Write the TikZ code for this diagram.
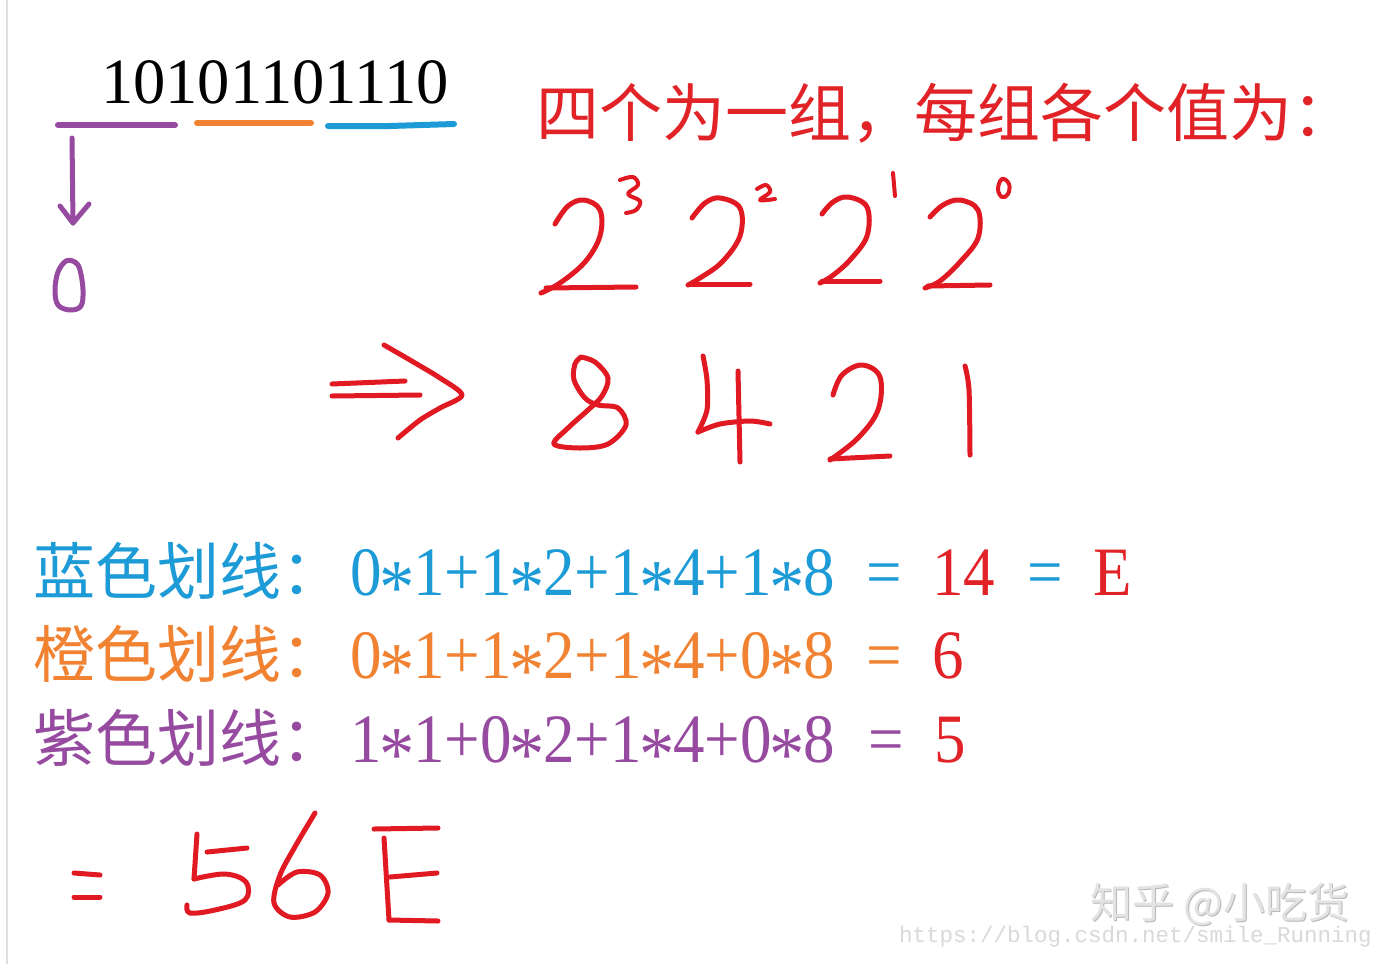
\documentclass[tikz,border=0pt]{standalone}
\usepackage{fontspec}
\setmainfont{Liberation Serif}
\newfontfamily\cjk{Noto Sans CJK SC}
\newfontfamily\monof{Liberation Mono}
\definecolor{blueC}{RGB}{28,155,215}
\definecolor{orangeC}{RGB}{240,130,50}
\definecolor{purpleC}{RGB}{150,75,160}
\definecolor{redC}{RGB}{225,35,40}
\definecolor{handred}{RGB}{225,25,35}
\newcommand\mul{\makebox[0.5em]{\raisebox{-0.27em}{\scalebox{1.12}{*}}}}
\newcommand\fs[1]{\fontsize{#1}{#1}\selectfont}
\tikzset{
  txt/.style={inner sep=0pt, outer sep=0pt, anchor=base west},
  hand/.style={line width=5pt, line cap=round, line join=round},
  uline/.style={line width=6pt, line cap=round}
}
\begin{document}
\begin{tikzpicture}[x=1pt,y=-1pt]
\useasboundingbox (0,0) rectangle (1380,964);
\fill[white] (0,0) rectangle (1380,964);
\draw[gray!25, line width=1.5pt] (7,0) -- (7,964);

% binary number and underlines
\node[txt, anchor=base] (bin) at (275,103) {\fs{64.5}10101101110};
\draw[uline, purpleC] (58,125) -- (175,125);
\draw[uline, orangeC] (197,123) -- (311,123);
\draw[uline, blueC] (328,126) -- (390,126) -- (454,124);

% purple arrow and zero
\draw[hand, purpleC] (72,138) -- (73,223);
\draw[hand, purpleC] (60,206) -- (73,223) -- (89,204);
\draw[hand, purpleC] plot[smooth cycle, tension=0.6] coordinates {(66,261) (58,272) (55,290) (58,305) (70,310) (81,306) (83,290) (80,270) (75,262)};

% heading
\node[txt, text=redC] (head) at (536,136) {\cjk\fs{63}四个为一组，每组各个值为：};

% 2^3 2^2 2^1 2^0
\draw[hand, handred] plot[smooth, tension=0.6] coordinates {(555,224) (568,206) (584,200) (600,210) (600,236) (585,262) (560,283) (541,293)};
\draw[hand, handred] (546,288) -- (636,287);
\draw[hand, handred, line width=4pt] plot[smooth, tension=0.6] coordinates {(620,180) (633,177) (638,185) (628,194) (640,201) (636,210) (626,213)};
\draw[hand, handred] plot[smooth, tension=0.6] coordinates {(692,218) (705,203) (720,198) (740,208) (740,236) (722,262) (700,278) (688,285)};
\draw[hand, handred] (690,284) -- (750,284);
\draw[hand, handred, line width=4pt] plot[smooth, tension=0.6] coordinates {(757,189) (766,185) (770,192) (760,200) (775,199)};
\draw[hand, handred] plot[smooth, tension=0.6] coordinates {(822,214) (833,202) (848,197) (867,207) (867,236) (850,260) (832,276) (820,283)};
\draw[hand, handred] (822,281) -- (880,281);
\draw[hand, handred, line width=4pt] (893,173) -- (895,196);
\draw[hand, handred] plot[smooth, tension=0.6] coordinates {(930,217) (943,205) (960,200) (978,210) (978,238) (960,262) (940,281) (925,288)};
\draw[hand, handred] (928,286) -- (990,285);
\draw[hand, handred, line width=4pt] plot[smooth cycle, tension=0.7] coordinates {(1002,179) (998,189) (1002,197) (1008,194) (1009,184)};

% double arrow
\draw[hand, handred] (332,384) -- (405,381);
\draw[hand, handred] (332,396) -- (420,395);
\draw[hand, handred] plot[smooth, tension=0.5] coordinates {(384,345) (410,360) (440,378) (462,395) (440,408) (420,420) (398,438)};

% 8 4 2 1
\draw[hand, handred] plot[smooth, tension=0.55] coordinates {(581,357) (595,362) (608,378) (602,396) (588,410) (568,428) (554,444) (580,448) (608,444) (626,425) (618,408) (598,405) (585,398) (574,380) (575,364) (581,357)};
\draw[hand, handred] plot[smooth, tension=0.5] coordinates {(703,356) (707,380) (707,410) (698,432)};
\draw[hand, handred] plot[smooth, tension=0.5] coordinates {(698,432) (720,424) (750,421) (770,424)};
\draw[hand, handred] (738,371) -- (740,462);
\draw[hand, handred] plot[smooth, tension=0.6] coordinates {(833,395) (842,375) (862,365) (880,377) (878,410) (858,438) (830,460)};
\draw[hand, handred] (830,459) -- (890,456);
\draw[hand, handred] plot[smooth, tension=0.5] coordinates {(965,366) (969,390) (970,455)};

% rows
\node[txt, text=blueC] (l1) at (33,594) {\cjk\fs{62}蓝色划线：};
\node[txt, text=blueC] (e1) at (350,595) {\scalebox{1}[1.1]{\fs{63}0\mul1+1\mul2+1\mul4+1\mul8}};
\node[txt, text=blueC] (q1) at (866,595) {\scalebox{1}[1.1]{\fs{63}=}};
\node[txt, text=redC] (v1) at (932,595) {\scalebox{1}[1.1]{\fs{63}14}};
\node[txt, text=blueC] (q1b) at (1027,595) {\scalebox{1}[1.1]{\fs{63}=}};
\node[txt, text=redC] (v1b) at (1093,595) {\scalebox{1}[1.1]{\fs{63}E}};

\node[txt, text=orangeC] (l2) at (33,677) {\cjk\fs{62}橙色划线：};
\node[txt, text=orangeC] (e2) at (350,678) {\scalebox{1}[1.1]{\fs{63}0\mul1+1\mul2+1\mul4+0\mul8}};
\node[txt, text=orangeC] (q2) at (866,678) {\scalebox{1}[1.1]{\fs{63}=}};
\node[txt, text=redC] (v2) at (932,678) {\scalebox{1}[1.1]{\fs{63}6}};

\node[txt, text=purpleC] (l3) at (33,761) {\cjk\fs{62}紫色划线：};
\node[txt, text=purpleC] (e3) at (350,762) {\scalebox{1}[1.1]{\fs{63}1\mul1+0\mul2+1\mul4+0\mul8}};
\node[txt, text=purpleC] (q3) at (868,762) {\scalebox{1}[1.1]{\fs{63}=}};
\node[txt, text=redC] (v3) at (934,762) {\scalebox{1}[1.1]{\fs{63}5}};

% = 56E hand-drawn
\draw[hand, handred] (74,873) -- (100,875);
\draw[hand, handred] (74,897) -- (100,897);
\draw[hand, handred] (197,834) -- (194,879);
\draw[hand, handred] (207,852) -- (247,848);
\draw[hand, handred] plot[smooth, tension=0.6] coordinates {(194,879) (225,874) (246,882) (245,900) (215,910) (190,913) (187,905)};
\draw[hand, handred] plot[smooth, tension=0.55] coordinates {(315,813) (296,845) (280,875) (274,903) (290,917) (315,912) (328,893) (320,875) (297,872) (278,885)};
\draw[hand, handred] (374,829) -- (438,828);
\draw[hand, handred] (384,838) -- (389,920);
\draw[hand, handred] (390,877) -- (437,873);
\draw[hand, handred] (389,920) -- (438,921);

% watermark
\node[txt, text=gray!55] at (1091.5,919.5) {\cjk\fs{42}知乎 @小吃货};
\node[txt, text=gray!22] (wm) at (1090,918) {\cjk\fs{42}知乎 @小吃货};
\node[txt, text=gray!30] (url) at (899,942) {\monof\fs{22.5}https://blog.csdn.net/smile\_Running};
\end{tikzpicture}
\end{document}
